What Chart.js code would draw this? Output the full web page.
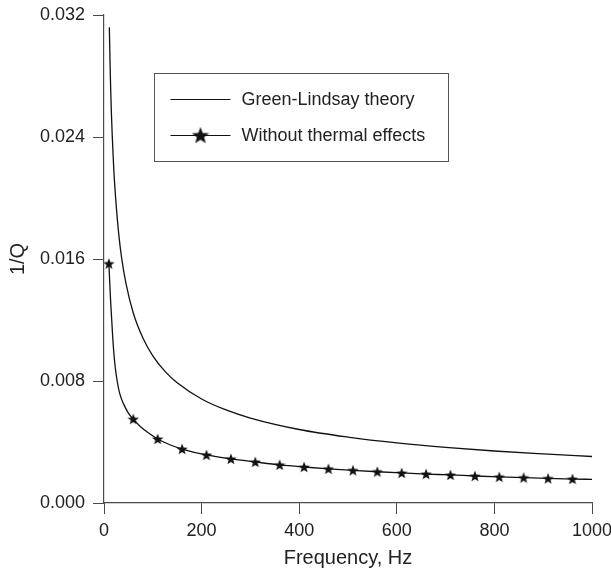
<!DOCTYPE html>
<html>
<head>
<meta charset="utf-8">
<script src="https://cdn.jsdelivr.net/npm/chart.js@4.4.0/dist/chart.umd.min.js"></script>
<style>
  body { margin: 0; background: #fff; }
</style>
</head>
<body>
<canvas id="grafico" width="611" height="571"></canvas>
<script>
// curva superior (Green-Lindsay)
const freqGL = [11, 12, 13, 14, 15, 17, 20, 25, 30, 36, 45, 60, 80, 100, 125, 150, 200, 250, 300, 400, 500, 600, 700, 800, 900, 1000];
const valGL = [0.0312, 0.0295, 0.0280, 0.0268, 0.0257, 0.0240, 0.0219, 0.0195, 0.0177, 0.0161, 0.0144, 0.01246, 0.0108, 0.00965, 0.00863, 0.00788, 0.00682, 0.0061, 0.00557, 0.00482, 0.00432, 0.00394, 0.00365, 0.00341, 0.00322, 0.00305];

// curva inferior (sin efectos termicos)
const freqSin = [10, 11, 12, 13, 14, 16, 18, 20, 23, 27, 32, 40, 50, 60, 75, 90, 110, 135, 160, 210, 260, 310, 360, 410, 460, 510, 560, 610, 660, 710, 760, 810, 860, 910, 960, 1000];
const valSin = [0.0157, 0.0150, 0.0143, 0.0136, 0.0130, 0.0119, 0.0108, 0.0099, 0.0089, 0.0080, 0.0072, 0.0065, 0.0059, 0.0055, 0.0050, 0.00462, 0.0042, 0.00382, 0.00354, 0.00315, 0.00289, 0.00269, 0.00250, 0.00236, 0.00224, 0.00214, 0.00205, 0.00197, 0.00190, 0.00184, 0.00177, 0.00171, 0.00166, 0.00161, 0.00157, 0.00155];
const freqEstrellas = [10, 60, 110, 160, 210, 260, 310, 360, 410, 460, 510, 560, 610, 660, 710, 760, 810, 860, 910, 960];

const yTicks = [0, 0.008, 0.016, 0.024, 0.032];
const xTicks = [0, 200, 400, 600, 800, 1000];
const etiquetas = ['Green-Lindsay theory', 'Without thermal effects'];

const fuente = '"Liberation Sans", Arial, sans-serif';
const colorEje = '#4a4a4a';

function hacerEstrella(size) {
  const c = document.createElement('canvas');
  c.width = size; c.height = size;
  const ctx = c.getContext('2d');
  const r = size / 2, ri = r * 0.42;
  ctx.beginPath();
  for (let i = 0; i < 10; i++) {
    const rad = i % 2 === 0 ? r : ri;
    const a = -Math.PI / 2 + i * Math.PI / 5;
    const px = r + rad * Math.cos(a), py = r + 0.5 + rad * Math.sin(a);
    if (i === 0) ctx.moveTo(px, py); else ctx.lineTo(px, py);
  }
  ctx.closePath();
  ctx.fillStyle = '#111';
  ctx.fill();
  return c;
}
const estrella = hacerEstrella(12);
const estrellaLeyenda = hacerEstrella(18);

const leyendaPlugin = {
  id: 'leyenda',
  afterDraw(chart) {
    const ctx = chart.ctx;
    const a = chart.chartArea;
    const x0 = a.left + 50.5, y0 = a.top + 58.5;
    ctx.save();
    ctx.strokeStyle = '#555';
    ctx.lineWidth = 1;
    ctx.strokeRect(x0, y0, 294, 88);
    ctx.strokeStyle = '#111';
    ctx.lineWidth = 1.2;
    const filas = [y0 + 26, y0 + 62];
    filas.forEach((y, i) => {
      ctx.beginPath();
      ctx.moveTo(x0 + 16, y);
      ctx.lineTo(x0 + 76, y);
      ctx.stroke();
      ctx.font = '18px ' + fuente;
      ctx.fillStyle = '#222';
      ctx.textBaseline = 'middle';
      ctx.fillText(etiquetas[i], x0 + 87, y + 1);
    });
    ctx.drawImage(estrellaLeyenda, x0 + 46 - 9, filas[1] - 9);
    ctx.restore();
  }
};

new Chart(document.getElementById('grafico').getContext('2d'), {
  type: 'line',
  data: {
    datasets: [
      {
        label: etiquetas[0],
        data: freqGL.map((f, i) => ({ x: f, y: valGL[i] })),
        borderColor: '#111',
        borderWidth: 1.3,
        pointRadius: 0,
        cubicInterpolationMode: 'monotone'
      },
      {
        label: etiquetas[1],
        data: freqSin.map((f, i) => ({ x: f, y: valSin[i] })),
        borderColor: '#111',
        borderWidth: 1.3,
        cubicInterpolationMode: 'monotone',
        pointStyle: estrella,
        pointRadius: ctx => freqEstrellas.includes(freqSin[ctx.dataIndex]) ? 5 : 0
      }
    ]
  },
  options: {
    responsive: false,
    animation: false,
    layout: { padding: { top: 15, right: 19, left: 0, bottom: 0 } },
    plugins: { legend: { display: false }, tooltip: { enabled: false } },
    scales: {
      x: {
        type: 'linear',
        min: 0, max: 1000,
        afterBuildTicks: s => { s.ticks = xTicks.map(v => ({ value: v })); },
        afterFit: s => { s.height = 68; s.paddingLeft = 0; s.paddingRight = 0; },
        grid: { drawOnChartArea: false, tickLength: 11, color: colorEje },
        border: { color: colorEje, width: 1.2 },
        ticks: { color: '#222', font: { family: fuente, size: 18 }, padding: 6, maxRotation: 0, callback: v => String(v) },
        title: { display: true, text: 'Frequency, Hz', color: '#222', font: { family: fuente, size: 20 }, padding: { top: 0, bottom: 1 } }
      },
      y: {
        min: 0, max: 0.032,
        afterBuildTicks: s => { s.ticks = yTicks.map(v => ({ value: v })); },
        afterFit: s => { s.width = 104; s.paddingTop = 0; s.paddingBottom = 0; },
        grid: { drawOnChartArea: false, tickLength: 11, color: colorEje },
        border: { color: colorEje, width: 1.2 },
        ticks: { color: '#222', font: { family: fuente, size: 18 }, padding: 8, callback: v => v.toFixed(3) },
        title: { display: true, text: '1/Q', color: '#222', font: { family: fuente, size: 20 }, padding: { bottom: 0, top: 6 } }
      }
    }
  },
  plugins: [leyendaPlugin]
});
</script>
</body>
</html>
